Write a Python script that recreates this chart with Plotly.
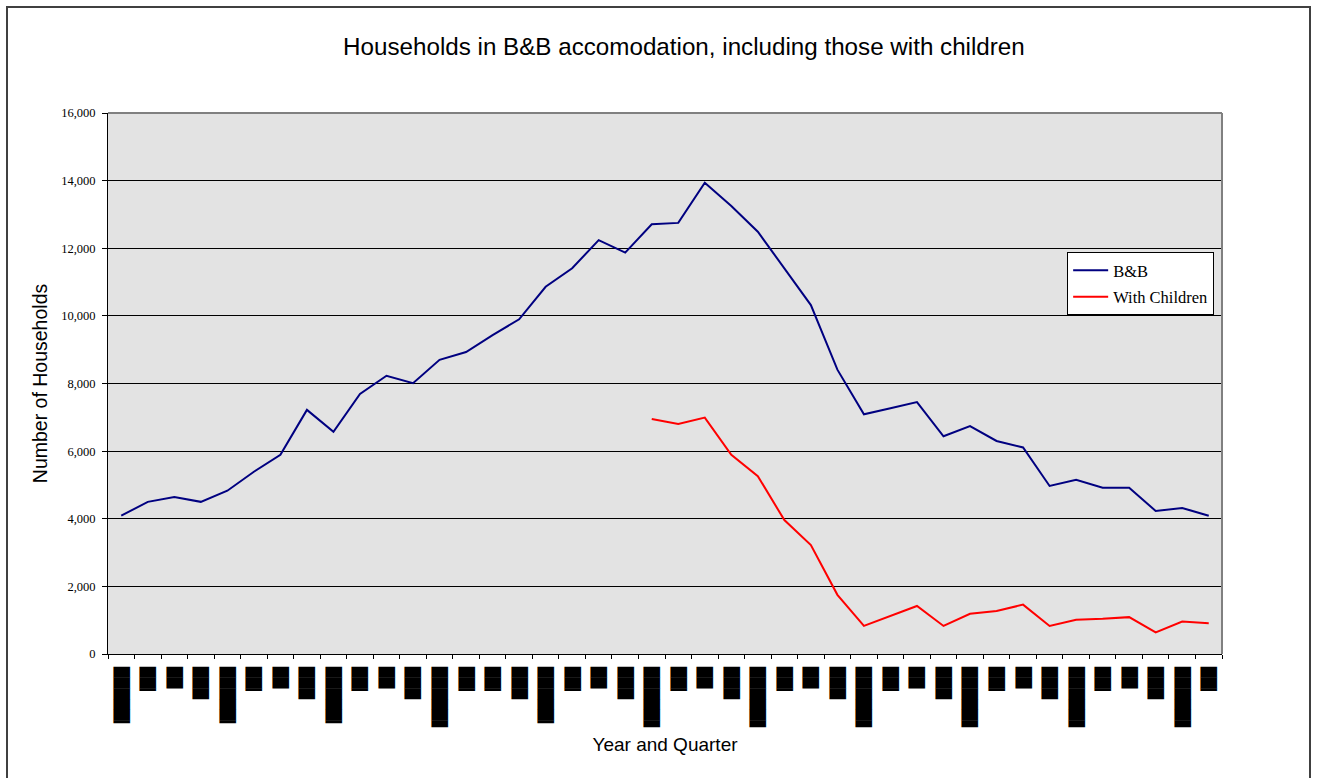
import plotly.graph_objects as go

# ---- data ----
quarters = [
    "1997 Q1", "1997 Q2", "1997 Q3", "1997 Q4",
    "1998 Q1", "1998 Q2", "1998 Q3", "1998 Q4",
    "1999 Q1", "1999 Q2", "1999 Q3", "1999 Q4",
    "2000 Q1", "2000 Q2", "2000 Q3", "2000 Q4",
    "2001 Q1", "2001 Q2", "2001 Q3", "2001 Q4",
    "2002 Q1", "2002 Q2", "2002 Q3", "2002 Q4",
    "2003 Q1", "2003 Q2", "2003 Q3", "2003 Q4",
    "2004 Q1", "2004 Q2", "2004 Q3", "2004 Q4",
    "2005 Q1", "2005 Q2", "2005 Q3", "2005 Q4",
    "2006 Q1", "2006 Q2", "2006 Q3", "2006 Q4",
    "2007 Q1", "2007 Q2",
]

bb_households = [
    4090, 4500, 4640, 4500, 4830, 5390, 5890, 7220, 6570, 7690,
    8230, 8010, 8700, 8930, 9430, 9900, 10860, 11410, 12240, 11870,
    12710, 12750, 13940, 13250, 12490, 11420, 10320, 8410, 7090, 7270,
    7450, 6440, 6740, 6300, 6110, 4970, 5150, 4920, 4920, 4230,
    4320, 4090,
]

with_children = [
    None, None, None, None, None, None, None, None, None, None,
    None, None, None, None, None, None, None, None, None, None,
    6950, 6800, 6990, 5890, 5260, 3960, 3220, 1750, 830, 1120,
    1420, 830, 1190, 1270, 1460, 830, 1010, 1040, 1090, 640,
    960, 910,
]

# the category labels are rendered as solid black blocks in the reference
tick_labels = [
    "█████▎", "██▎", "██", "███",
    "█████▎", "██▎", "██", "███",
    "█████▎", "██▎", "██", "███",
    "█████▋", "██▎", "██▎", "███",
    "█████▎", "██▎", "██", "███",
    "█████▋", "██▎", "██", "███",
    "█████▋", "██▎", "██", "███",
    "█████▋", "██▎", "██", "███",
    "█████▋", "██▎", "██", "███",
    "█████▋", "██▎", "██", "███",
    "█████▋", "██▎",
]

title_text = "Households in B&B accomodation, including those with children"

fig = go.Figure()
fig.add_trace(go.Scatter(
    x=quarters, y=bb_households, mode="lines", name="B&B",
    line=dict(color="#000080", width=2), legendgroup="a",
))
fig.add_trace(go.Scatter(
    x=quarters, y=with_children, mode="lines", name="With Children",
    line=dict(color="#FF0000", width=2), legendgroup="b",
))

fig.update_layout(
    width=1318, height=778,
    margin=dict(l=108, r=96, t=113, b=124, autoexpand=False),
    paper_bgcolor="white",
    plot_bgcolor="#E3E3E3",
    title=dict(
        text=title_text,
        font=dict(family="Liberation Sans, Arial", size=24.2, color="black"),
        x=0.517, xref="paper", xanchor="center",
        y=1 - 47 / 778, yref="container", yanchor="middle",
    ),
    legend=dict(
        x=0.861, y=0.743, xanchor="left", yanchor="top",
        bgcolor="white", bordercolor="black", borderwidth=1,
        font=dict(family="Liberation Serif, Times New Roman", size=16.5, color="black"),
        traceorder="grouped", tracegroupgap=2, itemwidth=35,
    ),
    showlegend=True,
)

fig.update_xaxes(
    type="category", range=[-0.5, len(quarters) - 0.5],
    tickmode="array", tickvals=quarters, ticktext=tick_labels,
    tickangle=90,
    tickfont=dict(family="DejaVu Sans", size=14, color="black"),
    ticks="outside", tickson="boundaries", ticklen=4, tickcolor="black",
    ticklabelstandoff=9,
    showgrid=False, zeroline=False,
    showline=True, linecolor="black", linewidth=1,
    automargin=False,
    title=dict(text="Year and Quarter",
               font=dict(family="Liberation Sans, Arial", size=19, color="black"),
               standoff=7),
)

fig.update_yaxes(
    range=[0, 16000], dtick=2000, tickformat=",",
    tickfont=dict(family="Liberation Serif, Times New Roman", size=12.5, color="black"),
    ticks="outside", ticklen=5, tickcolor="black",
    ticklabelstandoff=4,
    showgrid=True, gridcolor="black", gridwidth=1,
    zeroline=False,
    showline=True, linecolor="black", linewidth=1,
    automargin=False,
    title=dict(text="Number of Households",
               font=dict(family="Liberation Sans, Arial", size=19.5, color="black"),
               standoff=8),
)

# plot-area border (top and right edges, grey) and outer chart frame
fig.add_shape(type="line", xref="paper", yref="paper", x0=0, x1=1, y0=1, y1=1,
              line=dict(color="#808080", width=2), layer="above")
fig.add_shape(type="line", xref="paper", yref="paper", x0=1, x1=1, y0=0, y1=1,
              line=dict(color="#808080", width=2), layer="above")
fig.add_shape(type="rect", xref="paper", yref="paper",
              x0=(7 - 108) / 1114, x1=(1310 - 108) / 1114,
              y0=(654 - 800) / 541, y1=(654 - 7) / 541,
              line=dict(color="#404040", width=2), layer="above")

fig.write_html("out.html")
